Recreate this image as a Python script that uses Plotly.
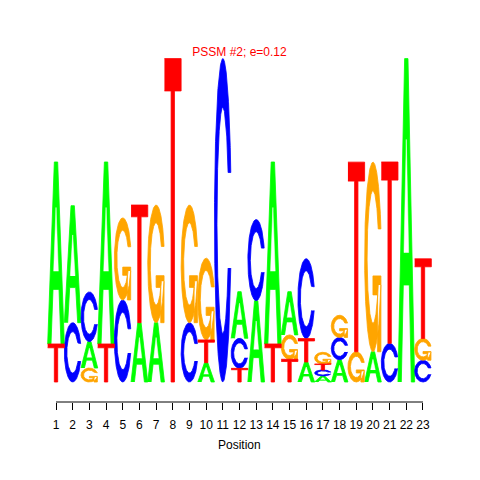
import numpy as np
import plotly.graph_objects as go

# ---- data (information content, bits) ----
positions = list(range(1, 24))
letters = ["A", "C", "G", "T"]
A = [1.12, 0.72, 0.162, 1.12, 0.0, 0.365, 0.365, 0.0, 0.0, 0.119, 0.0, 0.287,
     0.50, 1.12, 0.266, 0.123, 0.037, 0.137, 0.0, 0.186, 0.0, 1.99, 0.0]
C = [0.0, 0.365, 0.306, 0.0, 0.505, 0.0, 0.0, 0.0, 0.365, 0.0, 1.99, 0.185,
     0.50, 0.0, 0.0, 0.492, 0.037, 0.137, 0.0, 0.0, 0.238, 0.0, 0.134]
G = [0.0, 0.0, 0.086, 0.0, 0.505, 0.0, 0.724, 0.0, 0.724, 0.503, 0.0, 0.0,
     0.0, 0.0, 0.15, 0.0, 0.072, 0.137, 0.186, 1.167, 0.0, 0.0, 0.134]
T = [0.234, 0.0, 0.0, 0.234, 0.0, 0.724, 0.0, 1.99, 0.0, 0.14, 0.0, 0.084,
     0.0, 0.234, 0.14, 0.144, 0.037, 0.0, 1.167, 0.0, 1.116, 0.0, 0.49]
title_text = "PSSM #2; e=0.12"
xlabel = "Position"
colors = {"A": "#00FF00", "C": "#0000FF", "G": "#FFA500", "T": "#FF0000"}
heights = {"A": A, "C": C, "G": G, "T": T}

# ---- unit glyphs (seqLogo style) ----
def glyph_C():
    a1 = np.linspace(0.3 + np.pi / 2, np.pi, 100)
    a2 = np.linspace(np.pi, 1.5 * np.pi, 100)
    xl = np.concatenate([0.5 + 0.5 * np.sin(a1), 0.5 + 0.5 * np.sin(a2)])
    yl1 = 0.5 + 0.5 * np.cos(a1)
    yl = np.concatenate([yl1, 0.5 + 0.5 * np.cos(a2)])
    x = np.concatenate([xl, xl[::-1]])
    y = np.concatenate([yl, 1 - yl[::-1]])
    xi1 = 0.5 + 0.35 * np.sin(a1)
    yi1 = 0.5 + 0.35 * np.cos(a1)
    keep = yi1 <= yl1.max()
    xi1 = xi1[keep]
    yi1 = yi1[keep].copy()
    yi1[0] = yl1.max()
    xi = np.concatenate([xi1, 0.5 + 0.35 * np.sin(a2)])
    yi = np.concatenate([yi1, 0.5 + 0.35 * np.cos(a2)])
    x1 = np.concatenate([xi, xi[::-1]])
    y1 = np.concatenate([yi, 1 - yi[::-1]])
    x = np.concatenate([x, x1[::-1]])
    y = np.concatenate([y, y1[::-1]])
    return [(x, y)], yl1.max(), (0.5 + 0.5 * np.sin(a1)).max()

def glyphs(letter):
    if letter == "A":
        outer = (np.array([0, 4, 6, 10, 8, 6.8, 3.2, 2]) / 10,
                 np.array([0, 10, 10, 0, 0, 3, 3, 0]) / 10)
        hole = (np.array([3.6, 5, 6.4]) / 10, np.array([4, 7.5, 4]) / 10)
        return [outer], [hole]
    if letter == "T":
        return [(np.array([0, 10, 10, 6, 6, 4, 4, 0]) / 10,
                 np.array([10, 10, 9, 9, 0, 0, 9, 9]) / 10)], []
    if letter == "C":
        p, _, _ = glyph_C()
        return p, []
    if letter == "G":
        p, h1, r1 = glyph_C()
        h1 = 0.4
        bar = (np.array([r1, 0.5, 0.5, r1 - 0.2, r1 - 0.2, r1, r1]),
               np.array([h1, h1, h1 - 0.1, h1 - 0.1, 0, 0, h1]))
        return p + [bar], []

paths = {L: ([], []) for L in letters}
holes = ([], [])
for i, pos in enumerate(positions):
    col = [(L, heights[L][i]) for L in letters if heights[L][i] > 0]
    col = sorted(col, key=lambda t: t[1])
    base = 0.0
    for L, h in col:
        polys, hs = glyphs(L)
        for (ux, uy) in polys:
            paths[L][0].extend(list(pos - 0.5 + ux) + [None])
            paths[L][1].extend(list(base + h * uy) + [None])
        for (ux, uy) in hs:
            holes[0].extend(list(pos - 0.5 + ux) + [None])
            holes[1].extend(list(base + h * uy) + [None])
        base += h

fig = go.Figure()
for L in letters:
    fig.add_trace(go.Scatter(x=paths[L][0], y=paths[L][1], mode="lines",
                             fill="toself", fillcolor=colors[L],
                             line=dict(color=colors[L], width=0.8),
                             hoverinfo="skip", showlegend=False))
fig.add_trace(go.Scatter(x=holes[0], y=holes[1], mode="lines", fill="toself",
                         fillcolor="white", line=dict(color="white", width=0.5),
                         hoverinfo="skip", showlegend=False))

font = "Arial, Liberation Sans, Helvetica, sans-serif"
fig.add_shape(type="line", xref="x", yref="paper", x0=positions[0],
              x1=positions[-1], y0=0, y1=0, line=dict(color="black", width=1))
fig.add_annotation(text=xlabel, xref="paper", yref="paper", x=0.5,
                   y=-43 / 352, yanchor="middle", showarrow=False,
                   font=dict(family=font, size=12, color="black"))
fig.update_layout(
    width=472, height=472,
    margin=dict(l=38, r=47, t=42, b=78),
    paper_bgcolor="white", plot_bgcolor="white",
    title=dict(text=title_text, x=0.5, xref="paper", y=1 - 44 / 472,
               yref="container", yanchor="middle", xanchor="center",
               font=dict(family=font, size=12, color="red")),
    xaxis=dict(range=[0.4, 23.6], tickvals=positions, ticks="outside",
               ticklen=7, tickcolor="black", tickwidth=1, showline=False,
               showgrid=False, zeroline=False, ticklabelstandoff=5,
               tickfont=dict(family=font, size=12, color="black")),
    yaxis=dict(range=[-0.123, 2.043], visible=False),
)
fig.write_html("out.html")
